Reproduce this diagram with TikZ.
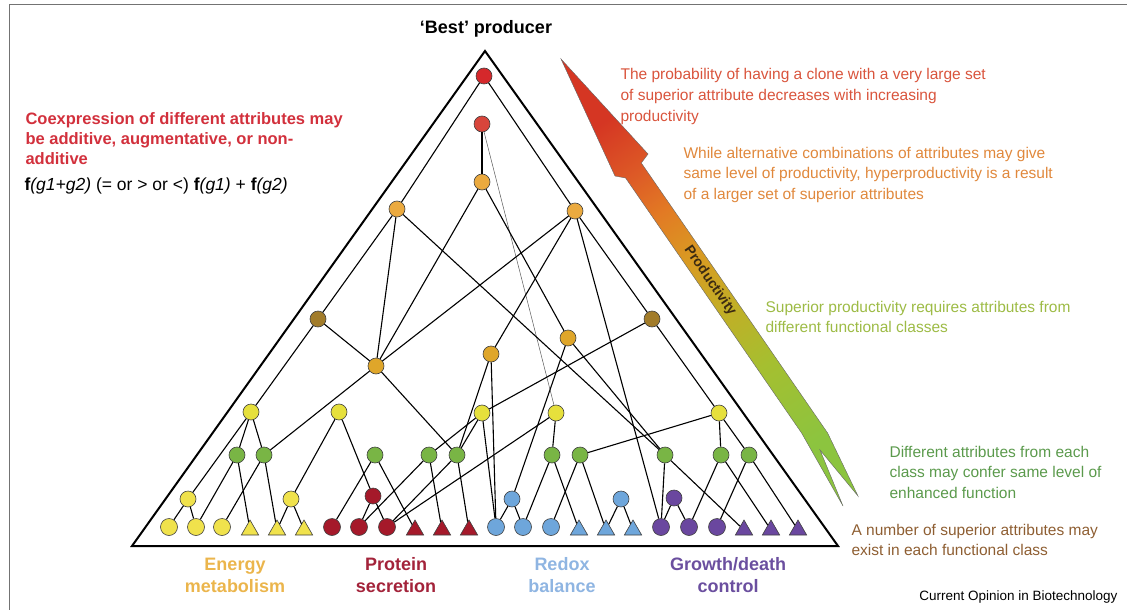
\documentclass[tikz,border=0pt]{standalone}
\usepackage{fontspec}
\setmainfont{Liberation Sans}
\usetikzlibrary{shapes.geometric}

% node colours
\definecolor{bestred}{HTML}{D5282B}
\definecolor{subred}{HTML}{D8453B}
\definecolor{lightor}{HTML}{EBAA3F}
\definecolor{brownol}{HTML}{A27C2A}
\definecolor{goldor}{HTML}{DFA62A}
\definecolor{yelnode}{HTML}{E6E03C}
\definecolor{grnnode}{HTML}{79B545}
\definecolor{enyel}{HTML}{F0E24C}
\definecolor{psred}{HTML}{A5192A}
\definecolor{rxblue}{HTML}{6EA6DB}
\definecolor{gdpurp}{HTML}{6A479F}
% text colours
\definecolor{txred}{HTML}{D2303C}
\definecolor{txone}{HTML}{D9543C}
\definecolor{txtwo}{HTML}{E0883C}
\definecolor{txthree}{HTML}{9DBB45}
\definecolor{txfour}{HTML}{5B9A4C}
\definecolor{txfive}{HTML}{8E5E32}
\definecolor{lbenergy}{HTML}{EBB54C}
\definecolor{lbprotein}{HTML}{A3233A}
\definecolor{lbredox}{HTML}{8FB5E2}
\definecolor{lbgrowth}{HTML}{6B4F9F}
\definecolor{prodtext}{HTML}{3B2A12}
% arrow colours
\definecolor{argreen}{HTML}{8CC43F}
\definecolor{arlime}{HTML}{A5BF30}
\definecolor{arolive}{HTML}{C2AE26}
\definecolor{aramber}{HTML}{D99A22}
\definecolor{arorange}{HTML}{E27A24}
\definecolor{arred}{HTML}{DD5A26}
\definecolor{artip}{HTML}{D53623}

\pgfdeclareverticalshading{prodshade}{100bp}{color(0bp)=(argreen); color(25bp)=(argreen); color(37bp)=(arlime); color(46bp)=(arolive); color(54bp)=(aramber); color(61bp)=(arorange); color(67bp)=(arred); color(75bp)=(artip); color(100bp)=(artip)}

\begin{document}
\begin{tikzpicture}
    [x=1pt, y=-1pt, line width=1.1pt,
    attr/.style={circle, draw=black!75, line width=0.6pt, fill=#1, minimum size=16pt, inner sep=0pt},
    leaf/.style={circle, draw=black!75, line width=0.6pt, fill=#1, minimum size=17pt, inner sep=0pt},
    tri/.style={regular polygon, regular polygon sides=3, draw=black!75, line width=0.6pt, fill=#1, minimum size=20pt, inner sep=0pt},
    note/.style={anchor=base west, align=left, inner sep=0pt, font=\fontsize{15.5}{20.5}\selectfont},
    classlabel/.style={anchor=base, align=center, inner sep=0pt, font=\bfseries\fontsize{18}{22}\selectfont}]

    \useasboundingbox (0,0) rectangle (1127,610);
    \draw[black!55, line width=0.8pt] (9,610) -- (9,4) -- (1127,4);

    % productivity arrow
    \shadedraw[shading=prodshade, shading angle=34.6, draw=black!60, line width=0.4pt]
        (561,59) -- (648,154) -- (641.3,163) -- (827.6,433) -- (858,496)
        -- (820,450) -- (843,506) -- (801.6,433) -- (625.6,178) -- (615,176) -- cycle;
    \node[rotate=-55.4, font=\bfseries\fontsize{14}{17}\selectfont, text=prodtext] (prodlabel) at (710,281) {Productivity};

    % pyramid
    \draw[line width=2pt, line join=miter] (132,546) -- (485,51) -- (838,546) -- cycle;

    \node[attr=bestred] (best) at (484,76) {};
    \node[attr=subred] (r2) at (482,124) {};
    \node[attr=lightor] (o1) at (482,182) {};
    \node[attr=lightor] (o2) at (397,209) {};
    \node[attr=lightor] (o3) at (575,211) {};
    \node[attr=brownol] (br1) at (318,319) {};
    \node[attr=brownol] (br2) at (652,319) {};
    \node[attr=goldor] (au1) at (376,366) {};
    \node[attr=goldor] (au2) at (491,354) {};
    \node[attr=goldor] (au3) at (568,338) {};

    \node[attr=yelnode] (y1) at (251,412) {};
    \node[attr=yelnode] (y2) at (339,412) {};
    \node[attr=yelnode] (y3) at (482,413) {};
    \node[attr=yelnode] (y4) at (556,413) {};
    \node[attr=yelnode] (y5) at (719,413) {};

    \node[attr=grnnode] (gr1) at (237,455) {};
    \node[attr=grnnode] (gr2) at (264,455) {};
    \node[attr=grnnode] (gr3) at (375,455) {};
    \node[attr=grnnode] (gr4) at (429,455) {};
    \node[attr=grnnode] (gr5) at (457,455) {};
    \node[attr=grnnode] (gr6) at (552,455) {};
    \node[attr=grnnode] (gr7) at (580,455) {};
    \node[attr=grnnode] (gr8) at (665,455) {};
    \node[attr=grnnode] (gr9) at (721,455) {};
    \node[attr=grnnode] (gr10) at (749,455) {};

    \node[attr=enyel] (enA) at (188,499) {};
    \node[attr=enyel] (enB) at (291,499) {};
    \node[attr=psred] (psA) at (373,496) {};
    \node[attr=rxblue] (rxA) at (512,499) {};
    \node[attr=rxblue] (rxB) at (621,499) {};
    \node[attr=gdpurp] (gdA) at (674,498) {};

    % attributes of each class
    \node[leaf=enyel] (en1) at (169,527) {};
    \node[leaf=enyel] (en2) at (196,527) {};
    \node[leaf=enyel] (en3) at (222,527) {};
    \node[tri=enyel] (en4) at (250,530) {};
    \node[tri=enyel] (en5) at (277,530) {};
    \node[tri=enyel] (en6) at (304,530) {};
    \node[leaf=psred] (ps1) at (332,527) {};
    \node[leaf=psred] (ps2) at (359,527) {};
    \node[leaf=psred] (ps3) at (387,527) {};
    \node[tri=psred] (ps4) at (415,530) {};
    \node[tri=psred] (ps5) at (442,530) {};
    \node[tri=psred] (ps6) at (469,530) {};
    \node[leaf=rxblue] (rx1) at (496,527) {};
    \node[leaf=rxblue] (rx2) at (523,527) {};
    \node[leaf=rxblue] (rx3) at (551,527) {};
    \node[tri=rxblue] (rx4) at (579,530) {};
    \node[tri=rxblue] (rx5) at (606,530) {};
    \node[tri=rxblue] (rx6) at (633,530) {};
    \node[leaf=gdpurp] (gd1) at (661,527) {};
    \node[leaf=gdpurp] (gd2) at (689,527) {};
    \node[leaf=gdpurp] (gd3) at (717,527) {};
    \node[tri=gdpurp] (gd4) at (744,530) {};
    \node[tri=gdpurp] (gd5) at (771,530) {};
    \node[tri=gdpurp] (gd6) at (798,530) {};

    \draw (best) edge (o2);
    \draw (best) edge (o3);
    \draw (r2) edge (o1);
    \draw[line width=0.5pt, black!65] (r2) edge (y4);
    \draw (o1) edge (au1);
    \draw (o1) edge (au3);
    \draw (o2) edge (br1);
    \draw (o2) edge (au1);
    \draw (o2) edge (gr8);
    \draw (o3) edge (au1);
    \draw (o3) edge (au2);
    \draw (o3) edge (br2);
    \draw (o3) edge (gd1);
    \draw (br1) edge (au1);
    \draw (br1) edge (y1);
    \draw (br2) edge (y3);
    \draw (br2) edge (y5);
    \draw (au1) edge (gr2);
    \draw (au1) edge (gr5);
    \draw (au2) edge (gr5);
    \draw (au2) edge (rx1);
    \draw (au3) edge (rxA);
    \draw (au3) edge (gr8);
    \draw (y1) edge (enA);
    \draw (y1) edge (gr1);
    \draw (y1) edge (gr2);
    \draw (y2) edge (enB);
    \draw (y2) edge (psA);
    \draw (y3) edge (gr4);
    \draw (y3) edge (gr5);
    \draw (y3) edge (rx1);
    \draw (y4) edge (gr6);
    \draw (y4) edge (ps3);
    \draw (y5) edge (gr7);
    \draw (y5) edge (gr9);
    \draw (y5) edge (gr10);
    \draw (gr1) edge (en2);
    \draw (gr1) edge (en4);
    \draw (gr2) edge (en3);
    \draw (gr2) edge (en5);
    \draw (gr3) edge (ps1);
    \draw (gr3) edge (ps4);
    \draw (gr4) edge (ps2);
    \draw (gr4) edge (ps5);
    \draw (gr5) edge (ps3);
    \draw (gr5) edge (ps6);
    \draw (gr6) edge (rx2);
    \draw (gr6) edge (rx4);
    \draw (gr7) edge (rx3);
    \draw (gr7) edge (rx5);
    \draw (gr8) edge (gd1);
    \draw (gr8) edge (gd4);
    \draw (gr9) edge (gd2);
    \draw (gr9) edge (gd5);
    \draw (gr10) edge (gd3);
    \draw (gr10) edge (gd6);
    \draw (enA) edge (en1);
    \draw (enA) edge (en2);
    \draw (enB) edge (en5);
    \draw (enB) edge (en6);
    \draw (psA) edge (ps2);
    \draw (psA) edge (ps3);
    \draw (rxA) edge (rx1);
    \draw (rxA) edge (rx2);
    \draw (rxB) edge (rx5);
    \draw (rxB) edge (rx6);
    \draw (gdA) edge (gd1);
    \draw (gdA) edge (gd2);

    % texts (base anchor sits on the last line)
    \node[anchor=base, inner sep=0pt, font=\bfseries\fontsize{18}{22}\selectfont] (title) at (486,34) {‘Best’ producer};
    \node[note, font=\bfseries\fontsize{16.5}{20}\selectfont, text=txred] (coexp) at (25,164)
        {Coexpression of different attributes may\\be additive, augmentative, or non-\\additive};
    \node[note, font=\fontsize{17.5}{19.5}\selectfont] (formula) at (24,190)
        {\textbf{f}\textit{(g1+g2)} (= or > or <) \textbf{f}\textit{(g1)} + \textbf{f}\textit{(g2)}};

    \node[note, text=txone] (probnote) at (620,121)
        {The probability of having a clone with a very large set\\of superior attribute decreases with increasing\\productivity};
    \node[note, text=txtwo] (combnote) at (683,199)
        {While alternative combinations of attributes may give\\same level of productivity, hyperproductivity is a result\\of a larger set of superior attributes};
    \node[note, text=txthree] (classnote) at (765,332.5)
        {Superior productivity requires attributes from\\different functional classes};
    \node[note, text=txfour] (diffnote) at (889,498)
        {Different attributes from each\\class may confer same level of\\enhanced function};
    \node[note, text=txfive] (numnote) at (851,555.5)
        {A number of superior attributes may\\exist in each functional class};

    \node[classlabel, text=lbenergy] (energy) at (235,592) {Energy\\metabolism};
    \node[classlabel, text=lbprotein] (protein) at (396,592) {Protein\\secretion};
    \node[classlabel, text=lbredox] (redox) at (562,592) {Redox\\balance};
    \node[classlabel, text=lbgrowth] (growth) at (728,592) {Growth/death\\control};

    \node[anchor=base east, inner sep=0pt, font=\fontsize{13.5}{16}\selectfont] (credit) at (1118,600) {Current Opinion in Biotechnology};
\end{tikzpicture}
\end{document}
